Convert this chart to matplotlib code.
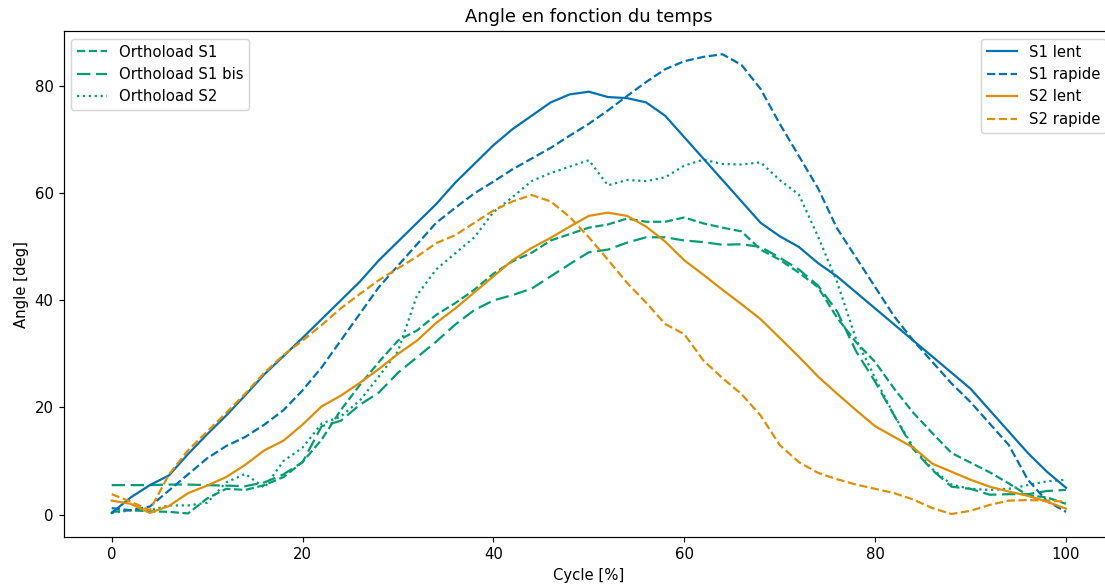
import matplotlib
matplotlib.use("Agg")
import matplotlib.pyplot as plt

#--- Cycle grid [%]
cycle = [0, 2, 4, 6, 8, 10, 12, 14, 16, 18, 20, 22, 24, 26, 28, 30, 32, 34, 36, 38,
         40, 42, 44, 46, 48, 50, 52, 54, 56, 58, 60, 62, 64, 66, 68, 70, 72, 74, 76, 78,
         80, 82, 84, 86, 88, 90, 92, 94, 96, 98, 100]

#--- Subject curves (deg)
s1_lent = [0.3, 3.2, 5.5, 7.3, 11.3, 15.0, 18.5, 22.3, 26.2, 29.6, 33.0, 36.5, 40.0, 43.5,
           47.5, 51.0, 54.5, 58.0, 62.0, 65.5, 69.0, 72.0, 74.5, 77.0, 78.5, 79.0, 78.0,
           77.8, 77.0, 74.5, 70.5, 66.5, 62.5, 58.5, 54.5, 52.0, 50.0, 47.0, 44.5, 41.5,
           38.5, 35.5, 32.5, 29.5, 26.5, 23.5, 19.5, 15.5, 11.5, 8.0, 5.0]

s1_rapide = [1.2, 0.8, 1.5, 4.5, 7.5, 10.5, 12.8, 14.5, 16.8, 19.5, 23.2, 27.5, 32.5, 37.5,
             42.5, 46.5, 50.5, 54.5, 57.3, 60.0, 62.2, 64.5, 66.5, 68.5, 70.8, 73.0, 75.5,
             78.2, 80.8, 83.2, 84.7, 85.5, 86.0, 84.0, 79.5, 73.0, 67.0, 61.0, 53.5, 48.0,
             42.5, 37.0, 32.5, 28.5, 24.5, 21.0, 17.0, 13.0, 6.5, 2.5, 0.5]

s2_lent = [2.6, 2.0, 0.3, 1.6, 4.0, 5.4, 7.0, 9.3, 12.0, 13.8, 16.8, 20.2, 22.2, 24.6,
           27.2, 30.0, 32.5, 35.8, 38.5, 41.5, 44.5, 47.5, 49.8, 51.7, 53.8, 55.8, 56.4,
           55.8, 53.8, 51.0, 47.5, 44.8, 42.0, 39.3, 36.5, 33.0, 29.5, 25.8, 22.6, 19.5,
           16.5, 14.5, 12.5, 9.5, 8.0, 6.5, 5.2, 4.3, 3.5, 2.4, 1.1]

s2_rapide = [3.8, 2.4, 0.8, 7.5, 12.0, 15.5, 19.0, 22.6, 26.5, 29.8, 32.5, 35.4, 38.5, 41.2,
             43.8, 46.0, 48.2, 50.7, 52.2, 54.5, 56.8, 58.5, 59.7, 58.5, 55.6, 51.8, 47.6,
             43.3, 39.6, 35.6, 33.7, 28.8, 25.5, 22.5, 18.5, 13.0, 9.8, 7.8, 6.6, 5.6,
             4.8, 4.0, 2.8, 1.2, 0.1, 0.7, 1.8, 2.6, 2.7, 2.6, 2.4]

#--- Orthoload curves (deg)
ortho_s1 = [0.5, 0.8, 0.6, 0.5, 0.2, 3.0, 4.8, 4.6, 5.5, 7.0, 9.8, 14.0, 19.5, 24.2,
            28.5, 32.5, 34.4, 37.3, 39.5, 42.0, 45.0, 47.3, 48.9, 51.2, 52.4, 53.6, 54.2,
            55.3, 54.7, 54.7, 55.5, 54.4, 53.6, 52.9, 49.5, 47.6, 45.2, 42.5, 36.8, 32.2,
            28.5, 23.5, 19.0, 15.2, 11.5, 9.7, 7.9, 5.8, 3.6, 3.2, 2.0]

ortho_s1_bis = [5.5, 5.5, 5.5, 5.6, 5.6, 5.5, 5.4, 5.3, 6.0, 7.5, 9.8, 16.5, 17.5, 20.5,
                22.8, 26.5, 29.4, 32.3, 35.5, 38.2, 40.0, 41.0, 42.2, 44.5, 46.8, 49.0, 49.5,
                50.8, 51.8, 51.8, 51.2, 50.9, 50.4, 50.5, 50.0, 48.0, 45.8, 42.8, 38.0, 30.5,
                24.8, 18.5, 12.2, 8.3, 5.2, 4.8, 3.7, 3.8, 3.8, 4.4, 4.6]

ortho_s2 = [0.3, 0.8, 0.8, 1.7, 1.7, 2.2, 6.0, 7.6, 5.0, 10.0, 12.5, 17.0, 18.3, 21.3,
            25.8, 30.5, 41.0, 45.8, 48.8, 51.8, 56.5, 59.3, 62.3, 63.8, 65.0, 66.2, 61.5,
            62.5, 62.3, 63.0, 65.2, 66.3, 65.5, 65.4, 65.8, 62.5, 59.8, 52.0, 43.5, 32.8,
            25.5, 18.5, 12.6, 8.5, 5.6, 4.8, 4.6, 4.8, 5.5, 6.2, 6.5]

#--- Colours (seaborn colorblind)
c_blue   = '#0173b2'
c_orange = '#de8f05'
c_green  = '#029e73'

dpi = 107
fig = plt.figure(figsize=(1105 / dpi, 584 / dpi), dpi=dpi)
ax  = fig.add_axes([0.0579, 0.0805, 0.950, 0.866])

#--- Orthoload references
h_o1,  = ax.plot(cycle, ortho_s1, c=c_green, ls='--', label='Orthoload S1')
h_o1b, = ax.plot(cycle, ortho_s1_bis, c=c_green, dashes=(6, 2.5), label='Orthoload S1 bis')
h_o2,  = ax.plot(cycle, ortho_s2, c=c_green, ls=':', label='Orthoload S2')

#--- Subjects
h_s1l, = ax.plot(cycle, s1_lent, c=c_blue, ls='-', label='S1 lent')
h_s1r, = ax.plot(cycle, s1_rapide, c=c_blue, ls='--', label='S1 rapide')
h_s2l, = ax.plot(cycle, s2_lent, c=c_orange, ls='-', label='S2 lent')
h_s2r, = ax.plot(cycle, s2_rapide, c=c_orange, ls='--', label='S2 rapide')

#--- Legends
leg1 = ax.legend(handles=[h_o1, h_o1b, h_o2], loc='upper left')
ax.add_artist(leg1)
ax.legend(handles=[h_s1l, h_s1r, h_s2l, h_s2r], loc='upper right')

#--- Axis
ax.set_title('Angle en fonction du temps')
ax.set_xlabel('Cycle [%]')
ax.set_ylabel('Angle [deg]')
ax.spines['right'].set_visible(False)

fig.savefig('out.png', dpi=dpi)
